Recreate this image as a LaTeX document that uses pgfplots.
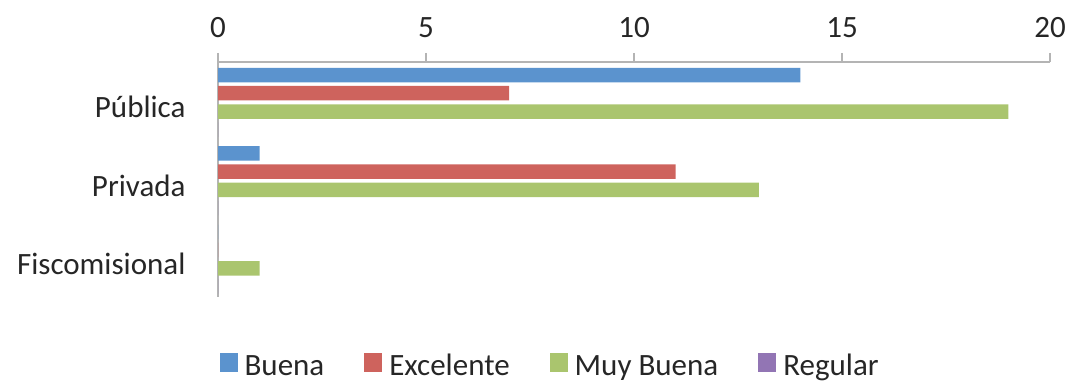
\documentclass[border=0pt]{standalone}
\usepackage{pgfplots}
\pgfplotsset{compat=1.18}
\usepackage{fontspec}
\setmainfont{Carlito}
\definecolor{cBlue}{HTML}{5B93CE}
\definecolor{cRed}{HTML}{CE635D}
\definecolor{cGreen}{HTML}{AAC56E}
\definecolor{cPurple}{HTML}{9275B4}
\definecolor{axisgray}{HTML}{B4B4B4}
\definecolor{txt}{HTML}{262626}
\begin{document}
\fontsize{31}{37}\selectfont
\begin{tikzpicture}
\useasboundingbox (0,0) rectangle (1073pt,385pt);
\begin{axis}[
  at={(218pt,88pt)}, anchor=south west,
  scale only axis, width=832pt, height=235pt,
  xmin=0, xmax=20, ymin=-0.5, ymax=2.5,
  axis x line=top, axis y line=left,
  axis line style={draw=axisgray, line width=1.8pt, -},
  xtick={0,5,10,15,20},
  ytick={0,1,2}, yticklabels={Fiscomisional,Privada,Pública},
  tick align=outside,
  major tick length=9pt,
  x tick style={draw=axisgray, line width=1.8pt},
  y tick style={draw=none},
  /pgf/number format/assume math mode=true,
  tick label style={font=\fontsize{31}{37}\selectfont, text=txt},
  xticklabel style={yshift=5pt},
  yticklabel style={xshift=-13pt, yshift=-6pt},
  xbar, bar width=0.185,
  every axis plot post/.append style={legend image code/.code={\fill[##1] (0pt,-4pt) rectangle (18pt,15pt);}},
  legend style={at={(0.398,-0.302)}, anchor=center, draw=none, fill=none,
    legend columns=4, font=\fontsize{31}{37}\selectfont, text=txt,
    nodes={inner sep=0pt, text height=21pt, text depth=7pt},
    /tikz/every odd column/.append style={column sep=7pt},
    /tikz/every even column/.append style={column sep=40pt}},
]
\addplot[fill=cBlue, draw=none, bar shift=0.332] coordinates {(14,2) (1,1) (0,0)};
\addplot[fill=cRed, draw=none, bar shift=0.102] coordinates {(7,2) (11,1) (0,0)};
\addplot[fill=cGreen, draw=none, bar shift=-0.134] coordinates {(19,2) (13,1) (1,0)};
\addplot[fill=cPurple, draw=none, bar shift=-0.364] coordinates {(0,2) (0,1) (0,0)};
\legend{Buena,Excelente,Muy Buena,Regular}
\end{axis}
\end{tikzpicture}
\end{document}
